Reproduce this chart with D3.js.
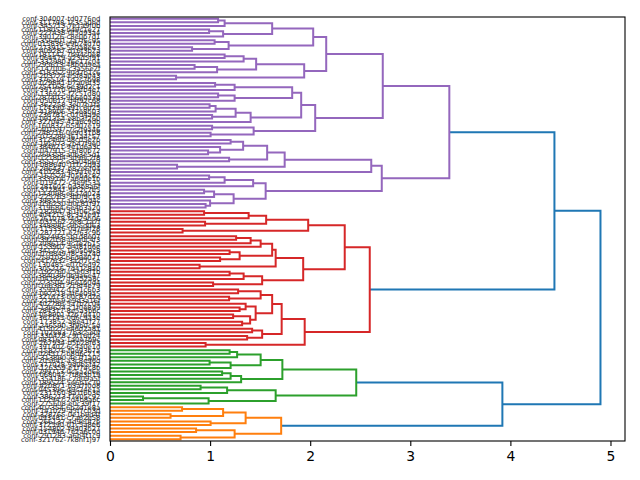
<!DOCTYPE html>
<head>
<meta charset="utf-8">
<title>Dendrogram</title>
<script src="https://d3js.org/d3.v7.min.js"></script>
<style>
  body { margin: 0; background: #fff; }
  text { font-family: "DejaVu Sans", sans-serif; }
</style>
</head>
<body>
<div id="chart"></div>
<script>
//------------------------------DATA------------------------------//
// leaf labels, top to bottom
const labels = [
  "conf-304007-td0776nd", "conf-311798-1s35a0hd", "conf-345713-7e1a9f0b", "conf-118053-b49c1e27", "conf-227438-0f5d93a4",
  "conf-390126-c8e0b7d1", "conf-356401-2a7f6c95", "conf-015836-e9b24d70", "conf-273915-5c0a8e63", "conf-409287-d16f3b2a",
  "conf-181142-7b94c0e8", "conf-064479-a23d5f91", "conf-332980-f6e17c04", "conf-295613-48b0d9ea", "conf-147006-c3a56e2f",
  "conf-418352-90d7b1c6", "conf-203774-e5f8a043", "conf-376519-1d2c7b98", "conf-029841-b7a06f35", "conf-254168-6e39d2c1",
  "conf-391770-0a8fb4e7", "conf-136925-f2c51d80", "conf-287403-9b6e0a3d", "conf-050617-d4f92c68", "conf-362258-3e07b1fa",
  "conf-174390-a91c6d25", "conf-418906-5f2e8b03", "conf-236781-c07d4a9e", "conf-091354-e8b3f260", "conf-327045-41a6c9db",
  "conf-160832-b5d07e19", "conf-401597-7c2f9a46", "conf-248716-0e9d31b8", "conf-073289-f61a4c57", "conf-312460-d8c05e2b",
  "conf-195073-2b47f9e0", "conf-384621-9e1d6a3c", "conf-047915-c6f80b72", "conf-269358-a0b3e5d1", "conf-121804-5d96c2f8",
  "conf-355172-e3a04b69", "conf-088640-1f7c2d9a", "conf-296437-b82e6f04", "conf-410283-4c9a1e7d", "conf-167529-f05b3c82",
  "conf-333914-7a6d0e1b", "conf-019472-c4e9f53a", "conf-281605-0d3b8a6f", "conf-372841-9f12c7e5", "conf-143098-e6a7d024",
  "conf-225763-3b0f9c18", "conf-398517-a75e2d4c", "conf-056230-d0c81f97", "conf-319684-6e4b3a20", "conf-182947-b1f06c5d",
  "conf-404215-8c3a7e91", "conf-261078-f4d29b06", "conf-037562-2e8c1a7f", "conf-348890-c9b5d063", "conf-115336-0a7e4f28",
  "conf-287721-e2f63c9b", "conf-062493-5b1d8e07", "conf-392058-d6a0c4f3", "conf-208614-9c7e2b15", "conf-153907-a4f81d6e",
  "conf-341275-1e05b9c8", "conf-076849-f8c3a24d", "conf-259103-b6d9e071", "conf-417632-3a2f7c5e", "conf-130485-e07b6d92",
  "conf-305216-7d41c8a0", "conf-192760-c5e03f1b", "conf-384039-0b9a6e47", "conf-041827-f3d52a8c", "conf-273504-96e1b0d4",
  "conf-166381-2c8f4e79", "conf-359942-d7a1c6b3", "conf-097218-4f6e09a5", "conf-321673-b0c87d2e", "conf-214059-e9d3a16f",
  "conf-402786-5a7b2c04", "conf-139624-c1f0e8d9", "conf-284317-8e5a3b6c", "conf-058901-f2b7d410", "conf-367145-0d6c9a3e",
  "conf-173852-a8e41f27", "conf-246590-3f9b0c5d", "conf-415027-e46d2a81", "conf-102683-7b3c5e0f", "conf-330478-c9f16d24",
  "conf-083165-1a0e7b9c", "conf-267934-d5b28f63", "conf-391402-6c4a0e1d", "conf-158276-f0e93b7a", "conf-024517-b8d6c215",
  "conf-313890-4e7f1a0c", "conf-205641-a3c8e96d", "conf-377028-9d0b5f42", "conf-126359-e1f74c8b", "conf-299713-0c5a2d6e",
  "conf-068042-7f8e3b19", "conf-354186-c2d09a5f", "conf-189524-5e6b1c70", "conf-420871-b3a7f0d8", "conf-045396-d9c24e1a",
  "conf-231760-8a1f6b3e", "conf-386213-f7e05c92", "conf-112947-2d4b8a6c", "conf-275608-e0c39f17", "conf-407354-6b2d1e8a",
  "conf-141029-a5f7c03d", "conf-328765-0e1b9d4f", "conf-093481-c7a62e58", "conf-266137-4d9e0f2b", "conf-372590-b1c5a8e6",
  "conf-154802-f9d03b27", "conf-031946-7e2a6c0d", "conf-291283-a6b4f1c9", "conf-321762-7k8nf1j97"
];

// merges: [height, left, right]; numbers are leaf indices (top to bottom)
const purpleTree = [3.39,
  [2.725,
    [2.16,
      [2.03,
        [1.62, [1.145, [1.08, 0, 1], 2], [1.13, [0.99, 3, 4], 5]],
        [1.185, [1.045, 6, 7], [0.82, 8, 9]]],
      [1.94,
        [1.46, [1.335, [1.145, 10, 11], 12], [1.07, [0.845, 13, 14], 15]],
        [0.66, 16, 17]]],
    [2.05,
      [1.91,
        [1.82, [1.245, [1.05, 18, 19], 20], [1.245, [1.08, 21, 22], 23]],
        [1.405, [1.255, [1.055, [0.995, 24, 25], 26], [1.02, 27, 28]], 29]],
      [1.435, [1.02, 30, 31], [1.005, 32, 33]]]],
  [2.715,
    [2.61,
      [1.745,
        [1.57, [1.33, [1.205, 34, 35], [1.10, 36, [0.98, 37, 38]]], [1.19, 39, 40]],
        [0.67, 41, 42]],
      43],
    [1.555,
      [1.43, [1.145, [0.99, 44, 45], 46], 47],
      [1.235, [1.04, [0.94, 48, 49], 50], [1.0, 51, [0.955, 52, 53]]]]]];

const redTree = [2.595,
  [2.345,
    [1.98,
      [1.56, [1.385, [0.94, 54, 55], 56], [0.95, 57, 58]],
      [0.725, 59, 60]],
    [1.93,
      [1.655,
        [1.62,
          [1.505, [1.405, [1.26, 61, 62], 63], 64],
          [1.295, [1.195, 65, 66], [1.10, 67, 68]]],
        [0.895, 69, 70]],
      [1.52, [1.335, [1.195, 71, 72], 73], [1.03, 74, 75]]]],
  [1.945,
    [1.715,
      [1.62,
        [1.505, [1.28, 76, 77], [1.19, 78, 79]],
        [1.455, [1.355, 80, [1.295, 81, 82]], [1.40, [1.23, 83, 84], [1.32, 85, 86]]]],
      [1.52, [1.42, 87, 88], [1.37, 89, 90]]],
    [0.955, 91, 92]]];

const greenTree = [2.46,
  [1.722,
    [1.505, [1.27, [1.195, 93, 94], 95], [1.205, [0.995, 96, 97], 98]],
    [1.31, [1.205, [1.12, 99, 100], 101], 102]],
  [1.655,
    [1.17, [0.905, 103, 104], 105],
    [0.985, [0.33, 106, 107], 108]]];

const orangeTree = [1.71,
  [1.355, [1.13, [0.72, 109, 110], [0.605, 111, 112]], [1.005, 113, 114]],
  [1.245, [0.86, 115, 116], [0.705, 117, 118]]];

const rootTree = [4.9, [4.44, purpleTree, redTree], [3.92, greenTree, orangeTree]];

// matplotlib tab10 cycle, in the order scipy hands them out (bottom cluster first)
const clusterColors = ["#ff7f0e", "#2ca02c", "#d62728", "#9467bd"];
const aboveColor = "#1f77b4";
const xTicks = [0, 1, 2, 3, 4, 5];

//-----------------------------SVG-------------------------------//
const W = 640, H = 480;
const plot = {left: 110, right: 625, top: 17, bottom: 441};

const svg = d3.select("#chart").append("svg")
    .attr("width", W).attr("height", H);

//---------------------------HIERARCHY----------------------------//
function toNode(a) {
  if (Array.isArray(a)) return {h: a[0], children: [toNode(a[1]), toNode(a[2])]};
  return {h: 0, leaf: a};
}
const root = d3.hierarchy(toNode(rootTree));
const leaves = root.leaves();
const n = leaves.length;
const rootH = root.data.h;
const threshold = 0.7 * rootH;

//----------------------------SCALES-----------------------------//
const x = d3.scaleLinear().domain([0, rootH * 1.05]).range([plot.left, plot.right]);
const y = d3.scaleLinear().domain([0, n]).range([plot.top, plot.bottom]);

// positions: leaves evenly spaced, inner nodes at the mean of their children
root.eachAfter(function(d) {
  if (d.children) d.py = d3.mean(d.children, c => c.py);
  else d.py = y(d.data.leaf + 0.5);
});

// clusters: nodes under the threshold whose parent is above it
const clusterRoots = root.descendants().filter(d => d.data.h < threshold && d.children &&
    d.parent && d.parent.data.h >= threshold);
clusterRoots.sort((a, b) => b.py - a.py); // bottom first
clusterRoots.forEach(function(c, i) {
  c.each(d => { d.color = clusterColors[i % clusterColors.length]; });
});

//-----------------------------LINKS------------------------------//
const inner = root.descendants().filter(d => d.children);
svg.append("g").selectAll("path")
  .data(inner)
  .enter().append("path")
    .attr("fill", "none")
    .attr("stroke", d => d.data.h >= threshold ? aboveColor : d.color)
    .attr("stroke-width", 2)
    .attr("stroke-linejoin", "miter")
    .attr("d", function(d) {
      const a = d.children[0], b = d.children[1];
      return "M" + x(a.data.h) + "," + a.py +
             "H" + x(d.data.h) + "V" + b.py + "H" + x(b.data.h);
    });

//-----------------------------AXES------------------------------//
svg.append("rect")
    .attr("x", plot.left).attr("y", plot.top)
    .attr("width", plot.right - plot.left).attr("height", plot.bottom - plot.top)
    .attr("fill", "none").attr("stroke", "#000").attr("stroke-width", 1.1);

const xAxis = svg.append("g")
    .attr("transform", "translate(0," + plot.bottom + ")")
    .call(d3.axisBottom(x).tickValues(xTicks).tickSize(4.9).tickPadding(4.9).tickFormat(d3.format("d")));
xAxis.select(".domain").remove();
xAxis.selectAll("line").attr("stroke-width", 1.1);
xAxis.selectAll("text").attr("font-size", 13.9).attr("fill", "#000")
    .style("font-family", "DejaVu Sans");

// leaf labels (they overlap in the original too)
svg.append("g").selectAll("text")
  .data(leaves)
  .enter().append("text")
    .attr("x", plot.left - 9.7)
    .attr("y", d => d.py)
    .attr("dy", "0.35em")
    .attr("text-anchor", "end")
    .attr("font-size", 6.8)
    .attr("fill", "#222")
    .text(d => labels[d.data.leaf]);
</script>
</body>
